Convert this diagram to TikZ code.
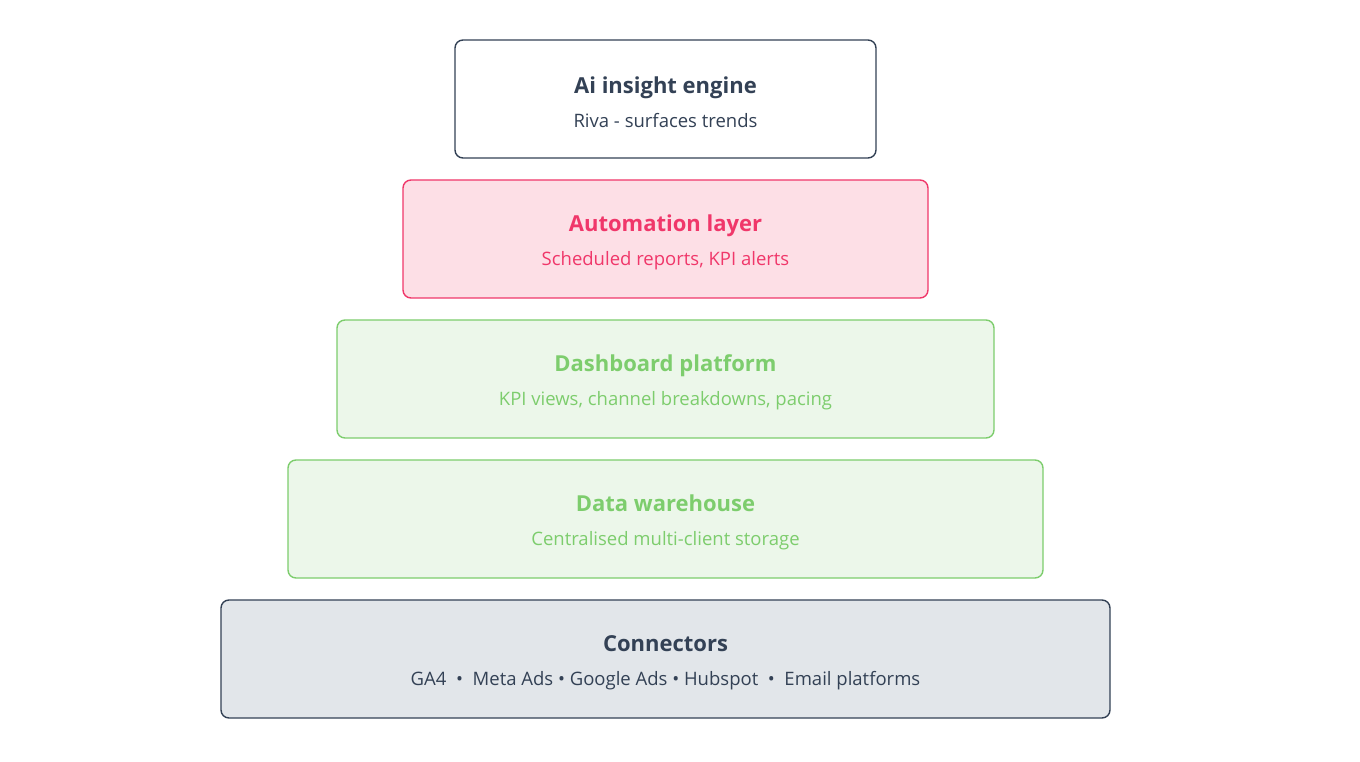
\documentclass[tikz,border=0pt]{standalone}
\usepackage{fontspec}
\setmainfont{Open Sans}
\usepackage{tikz}
\usetikzlibrary{positioning}
\definecolor{slate}{HTML}{334155}
\definecolor{slatefill}{HTML}{E2E6EA}
\definecolor{rose}{HTML}{F0376A}
\definecolor{rosefill}{HTML}{FDDFE6}
\definecolor{leaf}{HTML}{7DCD6D}
\definecolor{leaffill}{HTML}{ECF7EA}
\newcommand{\layertitle}[1]{{\fontsize{22}{34}\selectfont\bfseries\rule{0pt}{23pt}#1}}

\begin{document}
\begin{tikzpicture}[
  font=\fontsize{18.5}{34}\selectfont, node distance=22pt,
  layer/.style={draw, line width=1.4pt, rounded corners=8pt, minimum height=118pt, align=center, inner sep=0pt, outer sep=0pt},
  top/.style={layer, draw=slate, fill=white, text=slate},
  auto/.style={layer, draw=rose, fill=rosefill, text=rose},
  green/.style={layer, draw=leaf, fill=leaffill, text=leaf},
  base/.style={layer, draw=slate, fill=slatefill, text=slate}]
  \useasboundingbox (0,0) rectangle (1360pt,761pt);
  \node[top, minimum width=421pt] (insight) at (665.5pt,662pt) {\layertitle{Ai insight engine}\\Riva - surfaces trends};
  \node[auto, minimum width=525pt, below=of insight] (automation) {\layertitle{Automation layer}\\Scheduled reports, KPI alerts};
  \node[green, minimum width=657pt, below=of automation] (dashboard) {\layertitle{Dashboard platform}\\KPI views, channel breakdowns, pacing};
  \node[green, minimum width=755pt, below=of dashboard] (warehouse) {\layertitle{Data warehouse}\\Centralised multi-client storage};
  \node[base, minimum width=889pt, below=of warehouse] (connectors) {\layertitle{Connectors}\\GA4 \ \textbullet\ \ Meta Ads \textbullet{} Google Ads \textbullet{} Hubspot \ \textbullet\ \ Email platforms};
\end{tikzpicture}
\end{document}
